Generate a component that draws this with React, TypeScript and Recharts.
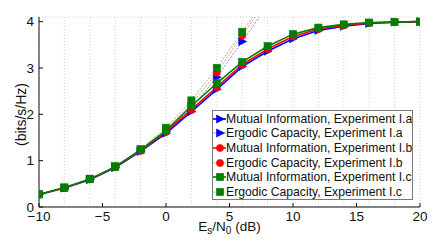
import React from 'react'
import { CartesianGrid, Legend, Line, LineChart, XAxis, YAxis } from 'recharts'

// SNR grid (dB) and curve values
const snr = [-10, -8, -6, -4, -2, 0, 2, 4, 6, 8, 10, 12, 14, 16, 18, 20]

const miA = [0.27, 0.41, 0.59, 0.85, 1.2, 1.59, 2.06, 2.54, 3.03, 3.36, 3.63, 3.81, 3.9, 3.96, 3.99, 4.0]
const miB = [0.27, 0.41, 0.6, 0.86, 1.21, 1.62, 2.1, 2.59, 3.07, 3.41, 3.68, 3.84, 3.92, 3.97, 3.99, 4.0]
const miC = [0.27, 0.42, 0.6, 0.87, 1.23, 1.65, 2.18, 2.67, 3.13, 3.47, 3.73, 3.87, 3.94, 3.98, 3.99, 4.0]

const ecA = [0.27, 0.41, 0.6, 0.86, 1.22, 1.63, 2.14, 2.8, 3.57, 4.35, 5.1]
const ecB = [0.27, 0.41, 0.6, 0.87, 1.23, 1.67, 2.22, 2.9, 3.7, 4.5, 5.25]
const ecC = [0.28, 0.42, 0.61, 0.88, 1.25, 1.71, 2.3, 3.0, 3.78, 4.58, 5.35]

const xTicks = [-10, -5, 0, 5, 10, 15, 20]
const yTicks = [0, 1, 2, 3, 4]

const data = snr.map((x, i) => ({
  snr: x,
  miA: miA[i],
  ecA: ecA[i] ?? null,
  miB: miB[i],
  ecB: ecB[i] ?? null,
  miC: miC[i],
  ecC: ecC[i] ?? null,
}))

const BLUE = '#0000ff'
const RED = '#ff0000'
const GREEN = '#007f00'

type Shape = 'tri' | 'circle' | 'square'

const series = [
  { key: 'miA', name: 'Mutual Information, Experiment I.a', color: BLUE, shape: 'tri' as Shape, ergodic: false },
  { key: 'ecA', name: 'Ergodic Capacity, Experiment I.a', color: BLUE, shape: 'tri' as Shape, ergodic: true },
  { key: 'miB', name: 'Mutual Information, Experiment I.b', color: RED, shape: 'circle' as Shape, ergodic: false },
  { key: 'ecB', name: 'Ergodic Capacity, Experiment I.b', color: RED, shape: 'circle' as Shape, ergodic: true },
  { key: 'miC', name: 'Mutual Information, Experiment I.c', color: GREEN, shape: 'square' as Shape, ergodic: false },
  { key: 'ecC', name: 'Ergodic Capacity, Experiment I.c', color: GREEN, shape: 'square' as Shape, ergodic: true },
]

const FONT = '"Liberation Sans", Arial, Helvetica, sans-serif'

function Marker({ cx, cy, shape, color }: { cx: number; cy: number; shape: Shape; color: string }) {
  if (cx == null || cy == null || isNaN(cx) || isNaN(cy)) return null
  if (shape === 'tri') {
    return <polygon points={`${cx - 3.5},${cy - 4} ${cx + 4.5},${cy} ${cx - 3.5},${cy + 4}`} fill={color} stroke={color} strokeWidth={0.6} />
  }
  if (shape === 'circle') {
    return <circle cx={cx} cy={cy} r={3.6} fill={color} stroke={color} strokeWidth={0.6} />
  }
  return <rect x={cx - 3.6} y={cy - 3.6} width={7.2} height={7.2} fill={color} stroke={color} strokeWidth={0.6} />
}

const fmtTick = (v: number) => String(v).replace('-', '\u2212')

function LegendBox() {
  return (
    <div
      style={{
        boxSizing: 'border-box',
        width: 201,
        height: 90,
        border: '1px solid #7a7a7a',
        background: '#fff',
        paddingTop: 0.5,
        fontFamily: FONT,
        fontSize: 12.2,
        color: '#111',
        overflow: 'hidden',
      }}
    >
      {series.map((s) => (
        <div key={s.key} style={{ height: 14.6, display: 'flex', alignItems: 'center', whiteSpace: 'nowrap' }}>
          <svg width={13} height={14} style={{ flex: 'none' }}>
            <line
              x1={0}
              y1={7}
              x2={13}
              y2={7}
              stroke={s.color}
              strokeWidth={s.ergodic ? 0.9 : 1.6}
              strokeOpacity={s.ergodic ? 0.4 : 1}
            />
            <Marker cx={7} cy={7} shape={s.shape} color={s.color} />
          </svg>
          <span>{s.name}</span>
        </div>
      ))}
    </div>
  )
}

function XLabel() {
  return (
    <text x={229.5} y={231} textAnchor="middle" fontFamily={FONT} fontSize={13.5} fill="#111">
      E<tspan fontSize={10} dy={3}>s</tspan>
      <tspan dy={-3}>/N</tspan>
      <tspan fontSize={10} dy={3}>0</tspan>
      <tspan dy={-3}> (dB)</tspan>
    </text>
  )
}

function YLabel() {
  return (
    <text
      x={21}
      y={114.5}
      transform="rotate(-90 21 114.5)"
      textAnchor="middle"
      dominantBaseline="central"
      fontFamily={FONT}
      fontSize={14}
      fill="#111"
    >
      (bits/s/Hz)
    </text>
  )
}

export default function App() {
  return (
    <div style={{ position: 'absolute', left: 0, top: 0, width: 443, height: 241, background: '#fff' }}>
      <LineChart width={443} height={241} data={data} margin={{ top: 17, right: 23, left: 9, bottom: 0 }}>
        <CartesianGrid stroke="#c8c8c8" strokeDasharray="1 2" strokeWidth={0.8} />
        <XAxis
          xAxisId="b"
          dataKey="snr"
          type="number"
          domain={[-10, 20]}
          ticks={xTicks}
          tickFormatter={fmtTick}
          tick={{ fontSize: 13.5, fill: '#111', fontFamily: FONT }}
          tickSize={-4}
          tickMargin={8}
          tickLine={{ stroke: '#111' }}
          axisLine={{ stroke: '#111', strokeWidth: 1 }}
          height={34}
          allowDataOverflow
          label={<XLabel />}
        />
        <XAxis
          xAxisId="t"
          orientation="top"
          dataKey="snr"
          type="number"
          domain={[-10, 20]}
          ticks={xTicks}
          tickFormatter={() => ''}
          tickSize={-4}
          tickLine={{ stroke: '#333' }}
          axisLine={{ stroke: '#808080', strokeWidth: 2 }}
          height={0}
        />
        <YAxis
          yAxisId="l"
          type="number"
          domain={[0, 4.1]}
          ticks={yTicks}
          tick={{ fontSize: 13.5, fill: '#111', fontFamily: FONT }}
          tickSize={-4}
          tickMargin={9}
          tickLine={{ stroke: '#111' }}
          axisLine={{ stroke: '#111', strokeWidth: 1 }}
          width={30}
          allowDataOverflow
          label={<YLabel />}
        />
        <YAxis
          yAxisId="r"
          orientation="right"
          type="number"
          domain={[0, 4.1]}
          ticks={yTicks}
          tickFormatter={() => ''}
          tickSize={-4}
          tickLine={{ stroke: '#333' }}
          axisLine={{ stroke: '#333', strokeWidth: 1 }}
          width={0}
        />
        {series.map((s) => (
          <Line
            key={s.key}
            xAxisId="b"
            yAxisId="l"
            dataKey={s.key}
            name={s.name}
            stroke={s.color}
            strokeWidth={s.ergodic ? 0.9 : 1.6}
            strokeOpacity={s.ergodic ? 0.55 : 1}
            strokeDasharray={s.ergodic ? '2 1.5' : undefined}
            connectNulls={false}
            isAnimationActive={false}
            dot={(p: any) => <Marker key={`${s.key}-${p.index}`} cx={p.cx} cy={p.cy} shape={s.shape} color={s.color} />}
            activeDot={false}
          />
        ))}
        <Legend
          layout="horizontal"
          verticalAlign="middle"
          align="center"
          content={<LegendBox />}
          wrapperStyle={{ left: 212, top: 110, width: 201, height: 90 }}
        />
      </LineChart>
    </div>
  )
}
